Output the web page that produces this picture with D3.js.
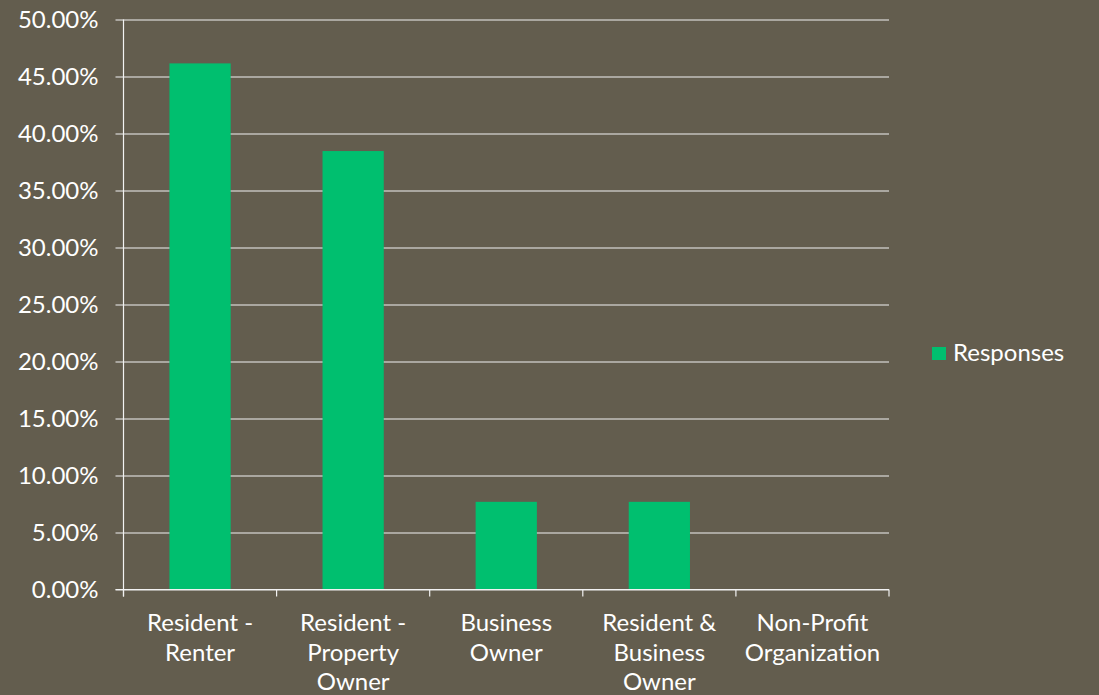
<!DOCTYPE html>
<html>
<head>
<meta charset="utf-8">
<script src="https://cdn.jsdelivr.net/npm/d3@7"></script>
<style>
  html, body { margin: 0; padding: 0; background: #635d4e; }
  svg { display: block; }
  text { font-family: Lato, "Open Sans", sans-serif; fill: #ffffff; }
</style>
</head>
<body>
<svg id="chart" width="1099" height="695"></svg>
<script>
// Survey respondent types and their share of responses
const categories = [
  ["Resident -", "Renter"],
  ["Resident -", "Property", "Owner"],
  ["Business", "Owner"],
  ["Resident &", "Business", "Owner"],
  ["Non-Profit", "Organization"]
];
const seriesName = "Responses";
const responses = [0.4615, 0.3846, 0.0769, 0.0769, 0];
const yTicks = [0, 0.05, 0.10, 0.15, 0.20, 0.25, 0.30, 0.35, 0.40, 0.45, 0.50];

const W = 1099, H = 695;
const plot = { left: 123.5, right: 889, top: 19.5, bottom: 589.5 };
const barColor = "#00bf6f";
const lineColor = "#f2f2f2";
const fontSize = "24px";

const svg = d3.select("#chart");
svg.append("rect").attr("width", W).attr("height", H).attr("fill", "#635d4e");

const keys = categories.map((c, i) => i);
const x = d3.scaleBand().domain(keys).range([plot.left, plot.right]).padding(0);
const y = d3.scaleLinear().domain([0, 0.5]).range([plot.bottom, plot.top]);
const fmt = d3.format(".2%");

// Horizontal gridlines with left tick stubs
const yAxis = d3.axisLeft(y)
  .tickValues(yTicks)
  .tickFormat(fmt)
  .tickSize(-(plot.right - plot.left))
  .tickPadding(25);
const gy = svg.append("g").attr("transform", `translate(${plot.left},0)`).call(yAxis);
gy.select(".domain").remove();
gy.selectAll(".tick line")
  .attr("x1", -8)
  .attr("stroke", lineColor)
  .attr("stroke-width", 1.2);
gy.selectAll(".tick text")
  .attr("x", -25)
  .style("font-size", fontSize)
  .style("font-family", "Lato, sans-serif")
  .attr("fill", "#ffffff");

// Bars
const barW = x.bandwidth() * 0.4;
svg.append("g").selectAll("rect")
  .data(responses)
  .join("rect")
  .attr("x", (d, i) => x(i) + (x.bandwidth() - barW) / 2)
  .attr("y", d => y(d))
  .attr("width", barW)
  .attr("height", d => y(0) - y(d))
  .attr("fill", barColor);

// Vertical value axis line
svg.append("line")
  .attr("x1", plot.left).attr("x2", plot.left)
  .attr("y1", plot.top).attr("y2", plot.bottom + 7)
  .attr("stroke", lineColor).attr("stroke-width", 1.2);

// Category axis: baseline with boundary ticks
svg.append("line")
  .attr("x1", plot.left - 8).attr("x2", plot.right)
  .attr("y1", plot.bottom).attr("y2", plot.bottom)
  .attr("stroke", lineColor).attr("stroke-width", 1.2);
const bounds = keys.map(k => x(k)).concat([x(keys[keys.length - 1]) + x.bandwidth()]);
svg.append("g").selectAll("line")
  .data(bounds)
  .join("line")
  .attr("x1", d => d).attr("x2", d => d)
  .attr("y1", plot.bottom).attr("y2", plot.bottom + 7)
  .attr("stroke", lineColor).attr("stroke-width", 1.2);

// Category labels (multi-line)
const lab = svg.append("g").selectAll("text")
  .data(categories)
  .join("text")
  .attr("text-anchor", "middle")
  .attr("x", (d, i) => x(i) + x.bandwidth() / 2)
  .attr("y", 631)
  .style("font-size", fontSize);
lab.selectAll("tspan")
  .data(d => d)
  .join("tspan")
  .attr("x", function () { return this.parentNode.getAttribute("x"); })
  .attr("dy", (d, i) => i === 0 ? 0 : 29.5)
  .text(d => d);

// Legend
const lg = svg.append("g").attr("transform", "translate(932,347)");
lg.append("rect").attr("width", 14).attr("height", 13).attr("fill", barColor);
lg.append("text").attr("x", 21).attr("y", 14).style("font-size", fontSize).text(seriesName);
</script>
</body>
</html>
